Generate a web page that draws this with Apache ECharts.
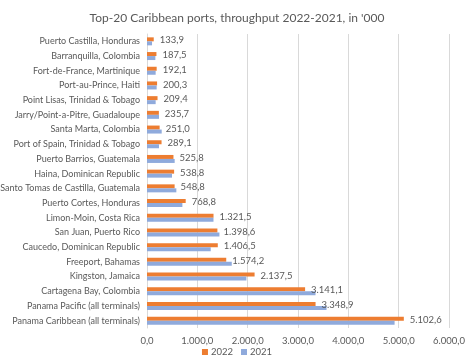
<!DOCTYPE html>
<html><head><meta charset="utf-8">
<script src="https://cdn.jsdelivr.net/npm/echarts@6/dist/echarts.min.js"></script>
<style>html,body{margin:0;padding:0;background:#fff}#c{width:474px;height:363px}</style>
</head><body><div id="c"></div>
<script>
const categories = [
  "Panama Caribbean (all terminals)","Panama Pacific (all terminals)","Cartagena Bay, Colombia","Kingston, Jamaica",
  "Freeport, Bahamas","Caucedo, Dominican Republic","San Juan, Puerto Rico","Limon-Moin, Costa Rica",
  "Puerto Cortes, Honduras","Santo Tomas de Castilla, Guatemala","Haina, Dominican Republic","Puerto Barrios, Guatemala",
  "Port of Spain, Trinidad & Tobago","Santa Marta, Colombia","Jarry/Point-a-Pitre, Guadaloupe","Point Lisas, Trinidad & Tobago",
  "Port-au-Prince, Haiti","Fort-de-France, Martinique","Barranquilla, Colombia","Puerto Castilla, Honduras"
];
const values2022 = [5102.6,3348.9,3141.1,2137.5,1574.2,1406.5,1398.6,1321.5,768.8,548.8,538.8,525.8,289.1,251.0,235.7,209.4,200.3,192.1,187.5,133.9];
const values2021 = [4919,3567,3348,1975,1684,1266,1439,1321,703,583,497,550,239,292,239,172,192,172,166,100];
const seriesNames = ["2022","2021"];
const xTicks = {min:0, max:6000, interval:1000};

function fmt(v){
  const s = Number(v).toFixed(1);
  let [i,d] = s.split('.');
  i = i.replace(/\B(?=(\d{3})+(?!\d))/g,'.');
  return i + ',' + d;
}
const font = "Lato, 'Open Sans', 'Liberation Sans', sans-serif";
const chart = echarts.init(document.getElementById('c'));
chart.setOption({
  animation:false,
  title:{text:"Top-20 Caribbean ports, throughput 2022-2021, in '000",left:'center',top:7,
    textStyle:{fontFamily:font,fontSize:12,fontWeight:'normal',color:'#595959'}},
  grid:{left:147,right:25,top:34,bottom:35,containLabel:false,outerBoundsMode:'none'},
  legend:{bottom:1,left:'center',itemWidth:6,itemHeight:6,itemGap:8,icon:'rect',
    textStyle:{fontFamily:font,fontSize:9.5,color:'#595959',padding:[0,0,0,-2]},data:seriesNames},
  xAxis:{type:'value',min:xTicks.min,max:xTicks.max,interval:xTicks.interval,
    axisLabel:{formatter:fmt,fontFamily:font,fontSize:9.5,color:'#595959',margin:8},
    splitLine:{lineStyle:{color:'#d9d9d9'}},axisLine:{show:false},axisTick:{show:false}},
  yAxis:{type:'category',data:categories,
    axisLabel:{fontFamily:font,fontSize:9,color:'#595959',margin:7},
    axisLine:{lineStyle:{color:'#d9d9d9'}},axisTick:{show:false}},
  series:[
    {name:seriesNames[0],type:'bar',data:values2022,barWidth:4,barGap:'0%',
     itemStyle:{color:'#ED7D31'},
     label:{show:true,position:'right',distance:6,formatter:p=>fmt(p.value),fontFamily:font,fontSize:9.5,color:'#595959',offset:[0,1]}},
    {name:seriesNames[1],type:'bar',data:values2021,barWidth:4,barGap:'0%',
     itemStyle:{color:'#8FAADC'}}
  ]
});
</script></body></html>
